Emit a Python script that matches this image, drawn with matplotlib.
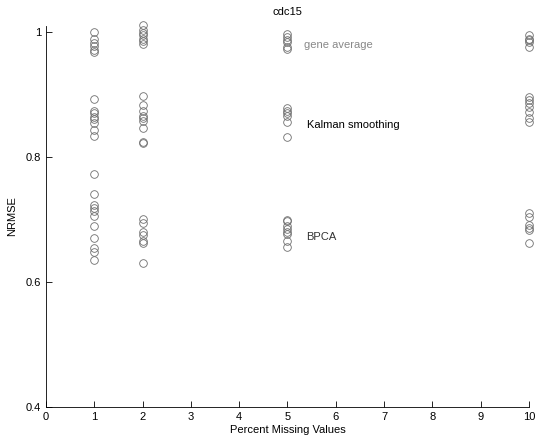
import numpy as np
import matplotlib.pyplot as plt

plt.rcParams['font.family'] = ['Liberation Sans', 'DejaVu Sans']

#-----------------------------------DATA:
pct = [1, 2, 5, 10]

gene_avg = {
    1: [1.000, 0.990, 0.983, 0.978, 0.972, 0.968],
    2: [1.011, 1.004, 0.999, 0.995, 0.990, 0.986, 0.982],
    5: [0.998, 0.992, 0.988, 0.984, 0.976, 0.973],
    10: [0.995, 0.990, 0.987, 0.984, 0.976],
}
kalman = {
    1: [0.893, 0.874, 0.870, 0.865, 0.861, 0.855, 0.844, 0.834],
    2: [0.898, 0.884, 0.874, 0.866, 0.862, 0.858, 0.847, 0.824, 0.823],
    5: [0.878, 0.874, 0.870, 0.866, 0.856, 0.833],
    10: [0.897, 0.891, 0.886, 0.880, 0.872, 0.862, 0.857],
}
bpca = {
    1: [0.773, 0.741, 0.723, 0.718, 0.714, 0.706, 0.689, 0.670, 0.655, 0.648, 0.636],
    2: [0.701, 0.695, 0.680, 0.675, 0.666, 0.662, 0.630],
    5: [0.699, 0.697, 0.690, 0.685, 0.680, 0.677, 0.665, 0.656],
    10: [0.710, 0.705, 0.691, 0.686, 0.683, 0.662],
}

#-----------------------------------PLOT:
fig = plt.figure(figsize=(5.37, 4.38), dpi=100)
ax = fig.add_axes([0.0857, 0.0708, 0.8993, 0.8698])

for series in (gene_avg, kalman, bpca):
    for p in pct:
        vals = series[p]
        ax.plot([p] * len(vals), vals, linestyle='none', marker='o',
                markersize=5.5, markerfacecolor='none', markeredgecolor='#6e6e6e',
                markeredgewidth=0.6, clip_on=False)

ax.text(5.35, 0.98, 'gene average', color='#888888', fontsize=8, va='center')
ax.text(5.4, 0.851, 'Kalman smoothing', color='black', fontsize=8, va='center')
ax.text(5.38, 0.672, 'BPCA', color='#333333', fontsize=8, va='center')

ax.set_xlim(0, 10)
ax.set_ylim(0.4, 1.01)
ax.set_xticks(range(0, 11))
ax.set_yticks([0.4, 0.6, 0.8, 1.0])
ax.set_yticklabels(['0.4', '0.6', '0.8', '1'])
ax.tick_params(direction='in', length=4, labelsize=8, width=0.6)
ax.spines['top'].set_visible(False)
ax.spines['right'].set_visible(False)
ax.spines['left'].set_linewidth(0.6)
ax.spines['bottom'].set_linewidth(0.6)

ax.set_title('cdc15', fontsize=8, pad=8)
ax.set_xlabel('Percent Missing Values', fontsize=8, labelpad=2)
ax.set_ylabel('NRMSE', fontsize=8, labelpad=6)

plt.savefig('out.png', dpi=100)
